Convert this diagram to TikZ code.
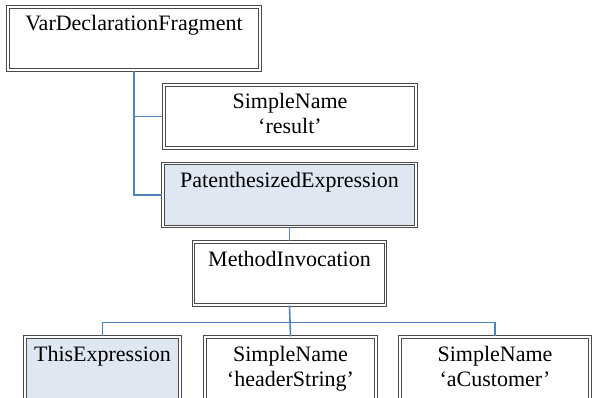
\documentclass[tikz,border=0pt]{standalone}
\usepackage{fontspec}
\setmainfont{Liberation Serif}
\usepackage{tikz}
\usetikzlibrary{positioning,calc}
\definecolor{linkblue}{RGB}{79,129,189}
\definecolor{paleblue}{RGB}{223,231,243}
\definecolor{frame}{RGB}{75,75,75}

\begin{document}
\begin{tikzpicture}[x=1pt, y=1pt,
        box/.style={rectangle, draw=frame, line width=1.4pt, double=white, double distance=1.1pt, fill=white, minimum height=63pt, align=center, inner sep=2pt, font=\fontsize{22}{25}\selectfont},
        shaded/.style={box, fill=paleblue},
        link/.style={draw=linkblue, line width=1.6pt}]
        
        \clip (0,0) rectangle (592,397);
        \useasboundingbox (0,0) rectangle (592,397);
        
        \node[box, minimum width=252pt] (vdf) at (134,358.5) {\strut VarDeclarationFragment\\ \strut};
        \node[box, minimum width=252pt] (result) at (290,280.5) {\strut SimpleName\\ \strut`result'};
        \node[shaded, minimum width=253pt] (paren) at (289.5,202) {\strut PatenthesizedExpression\\ \strut};
        \node[box, minimum width=192pt] (invoc) at (289.5,123.5) {\strut MethodInvocation\\ \strut};
        
        \node[shaded, minimum width=155pt] (this) at (102.5,28.5) {\strut ThisExpression\\ \strut};
        \node[box, minimum width=171pt] (header) at (290.5,28.5) {\strut SimpleName\\ \strut`headerString'};
        \node[box, minimum width=190pt] (cust) at (495,28.5) {\strut SimpleName\\ \strut`aCustomer'};
        
        \coordinate (bus) at ($(invoc.south)!0.55!(header.north)$);
        
        \draw[link] (vdf.south) |- (result.west);
        \draw[link] (vdf.south) |- (paren.west);
        \draw[link] (paren.south) -- (invoc.north);
        \draw[link] (invoc.south) -- (bus);
        \draw[link] (bus) -| (this.north);
        \draw[link] (bus) -| (cust.north);
        \draw[link] (bus) -- (header.north);
        
    \end{tikzpicture}
\end{document}
